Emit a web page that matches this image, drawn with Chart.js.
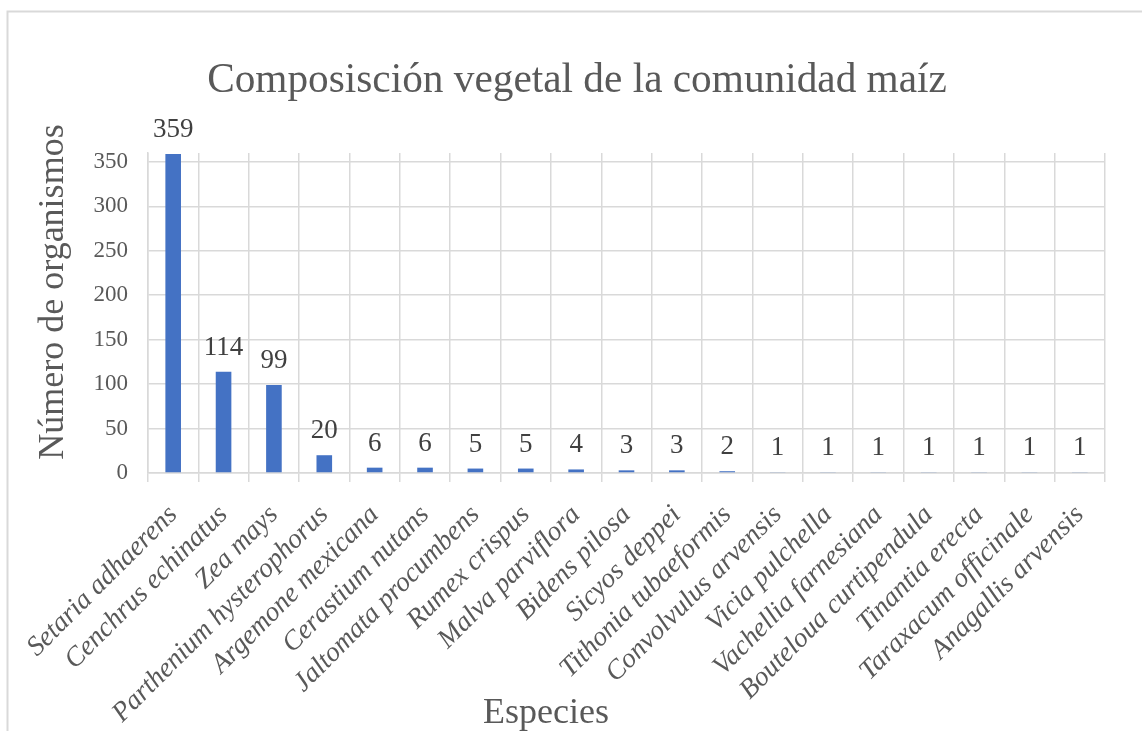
<!DOCTYPE html>
<html><head><meta charset="utf-8">
<script src="https://cdn.jsdelivr.net/npm/chart.js@4.4.0/dist/chart.umd.min.js"></script>
<style>html,body{margin:0;padding:0;background:#fff;overflow:hidden}#wrap{position:relative;width:1142px;height:731px}canvas{display:block}</style>
</head><body><div id="wrap"><canvas id="c" width="1142" height="731"></canvas></div>
<script>
const chartTitle = 'Composisción vegetal de la comunidad maíz';
const xAxisTitle = 'Especies';
const yAxisTitle = 'Número de organismos';
const species = ['Setaria adhaerens','Cenchrus echinatus','Zea mays','Parthenium hysterophorus','Argemone mexicana','Cerastium nutans','Jaltomata procumbens','Rumex crispus','Malva parviflora','Bidens pilosa','Sicyos deppei','Tithonia tubaeformis','Convolvulus arvensis','Vicia pulchella','Vachellia farnesiana','Bouteloua curtipendula','Tinantia erecta','Taraxacum officinale','Anagallis arvensis'];
const counts = [359,114,99,20,6,6,5,5,4,3,3,2,1,1,1,1,1,1,1];
const yTicks = [0,50,100,150,200,250,300,350];
const yMax = 360;

const SERIF = '"Liberation Serif","Times New Roman",serif';
const GRID = '#d9d9d9';

const textPlugin = {
  id: 'textPlugin',
  beforeDraw(chart) {
    const ctx = chart.ctx;
    ctx.save();
    ctx.strokeStyle = GRID; ctx.lineWidth = 2;
    ctx.beginPath();
    ctx.moveTo(7.5, 731); ctx.lineTo(7.5, 11.5); ctx.lineTo(1142, 11.5);
    ctx.stroke();
    ctx.restore();
  },
  afterDatasetsDraw(chart) {
    const ctx = chart.ctx;
    const meta = chart.getDatasetMeta(0);
    ctx.save();
    ctx.font = '27px ' + SERIF;
    ctx.fillStyle = '#404040';
    ctx.textAlign = 'center';
    ctx.textBaseline = 'alphabetic';
    meta.data.forEach((bar, i) => {
      ctx.fillText(String(counts[i]), bar.x, bar.y - 17);
    });
    ctx.restore();
  },
  afterDraw(chart) {
    const ctx = chart.ctx;
    ctx.save();
    ctx.fillStyle = '#595959';
    ctx.textAlign = 'center';
    ctx.textBaseline = 'alphabetic';
    ctx.font = '41.3px ' + SERIF;
    ctx.fillText(chartTitle, 577, 92);
    ctx.font = '36px ' + SERIF;
    ctx.fillText(xAxisTitle, 546, 723);
    ctx.translate(63, 292);
    ctx.rotate(-Math.PI / 2);
    ctx.fillText(yAxisTitle, 0, 0);
    ctx.restore();
  }
};

new Chart(document.getElementById('c'), {
  type: 'bar',
  data: {
    labels: species,
    datasets: [{
      data: counts,
      backgroundColor: '#4472C4',
      borderWidth: 0,
      barPercentage: 0.31,
      categoryPercentage: 1.0
    }]
  },
  options: {
    responsive: false,
    animation: false,
    devicePixelRatio: 1,
    layout: { padding: { left: 0, top: 153, right: 37, bottom: 0 } },
    plugins: { legend: { display: false }, tooltip: { enabled: false }, title: { display: false } },
    scales: {
      x: {
        grid: { color: GRID, lineWidth: 1.5, offset: true, drawTicks: true, tickLength: 9, tickColor: GRID },
        border: { color: GRID, width: 1.5 },
        ticks: {
          autoSkip: false, maxRotation: 45, minRotation: 45, padding: 17,
          color: '#595959',
          font: { family: SERIF, size: 27.5, style: 'italic' }
        },
        afterFit(scale) { scale.height = 731 - 473; }
      },
      y: {
        min: 0, max: yMax,
        grid: { color: GRID, lineWidth: 1.5, drawTicks: false },
        border: { color: GRID, width: 1.5 },
        ticks: {
          padding: 20, color: '#595959',
          font: { family: SERIF, size: 23 }
        },
        afterBuildTicks(scale) { scale.ticks = yTicks.map(v => ({ value: v })); },
        afterFit(scale) { scale.width = 148; }
      }
    }
  },
  plugins: [textPlugin]
});
</script>
</body></html>
